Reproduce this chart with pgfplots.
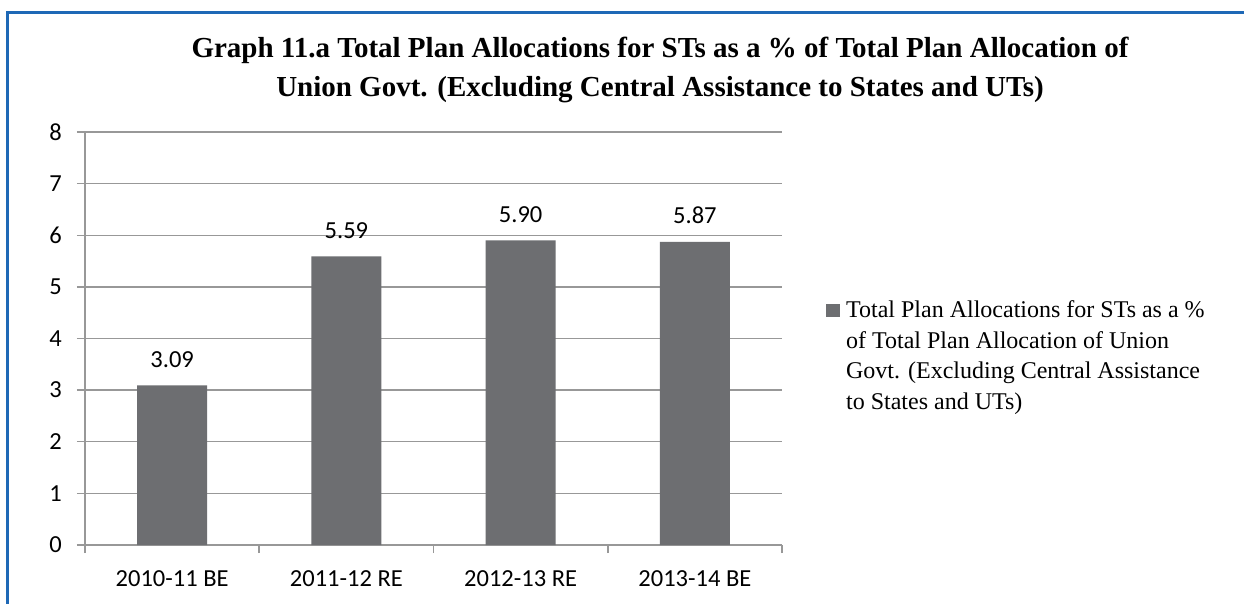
\documentclass[border=0pt]{standalone}
\usepackage{pgfplots}
\pgfplotsset{compat=1.18}
\usepackage{fontspec}
\setmainfont{Liberation Serif}
\newfontfamily\tickfont{Carlito}
\definecolor{barc}{RGB}{109,110,113}
\definecolor{gridc}{RGB}{152,152,152}
\definecolor{framec}{RGB}{30,104,182}
\begin{document}
\begin{tikzpicture}
\useasboundingbox (-85pt,-58pt) rectangle (1159pt,545pt);
\fill[white] (-85pt,-58pt) rectangle (1159pt,545pt);
\draw[framec, line width=3pt] (-77pt,-62pt) -- (-77pt,532pt) -- (1162pt,532pt);
\node[anchor=base, font=\bfseries\fontsize{29pt}{34pt}\selectfont] at (575pt,487pt) {Graph 11.a Total Plan Allocations for STs as a \% of Total Plan Allocation of};
\node[anchor=base, font=\bfseries\fontsize{29pt}{34pt}\selectfont] at (575pt,448pt) {Union Govt. (Excluding Central Assistance to States and UTs)};
\begin{axis}[
  at={(0pt,0pt)}, anchor=south west,
  scale only axis, width=697pt, height=413pt,
  xmin=-0.5, xmax=3.5, ymin=0, ymax=8,
  ytick={0,1,...,8},
  xtick={0,1,2,3},
  xticklabels={2010-11 BE,2011-12 RE,2012-13 RE,2013-14 BE},
  minor xtick={-0.5,0.5,1.5,2.5,3.5},
  major x tick style={draw=none},
  minor tick length=8pt,
  major tick length=8pt,
  tick align=outside,
  axis x line*=bottom, axis y line*=left,
  axis line style={gridc, line width=1.6pt},
  ymajorgrids, grid style={gridc, line width=1.4pt},
  y tick style={gridc, line width=1.4pt},
  minor x tick style={gridc, line width=1.6pt},
  /pgf/number format/assume math mode=true,
  tick label style={font=\tickfont\fontsize{24.5pt}{28pt}\selectfont, text=black},
  yticklabel style={anchor=east, inner sep=0pt, xshift=-15pt},
  xticklabel style={anchor=base, inner sep=0pt, yshift=-33pt},
  legend style={draw=none, fill=none, at={(1.063,0.592)}, anchor=north west, inner sep=0pt,
    font=\fontsize{24pt}{30.5pt}\selectfont,
    nodes={align=left, inner sep=0pt},
    /tikz/every odd column/.append style={column sep=6pt}},
  legend image code/.code={\fill[barc] (0pt,39pt) rectangle (14pt,52pt);},
]
\addplot[ybar, bar width=70pt, fill=barc, draw=none,
  nodes near coords,
  point meta=explicit symbolic,
  every node near coord/.append style={font=\tickfont\fontsize{24.5pt}{28pt}\selectfont, text=black, anchor=base, inner sep=0pt, yshift=18pt}]
  coordinates {(0,3.09) [3.09] (1,5.59) [5.59] (2,5.90) [5.90] (3,5.87) [5.87]};
\addlegendentry{Total Plan Allocations for STs as a \%\\of Total Plan Allocation of Union\\Govt. (Excluding Central Assistance\\to States and UTs)}
\end{axis}
\end{tikzpicture}
\end{document}
